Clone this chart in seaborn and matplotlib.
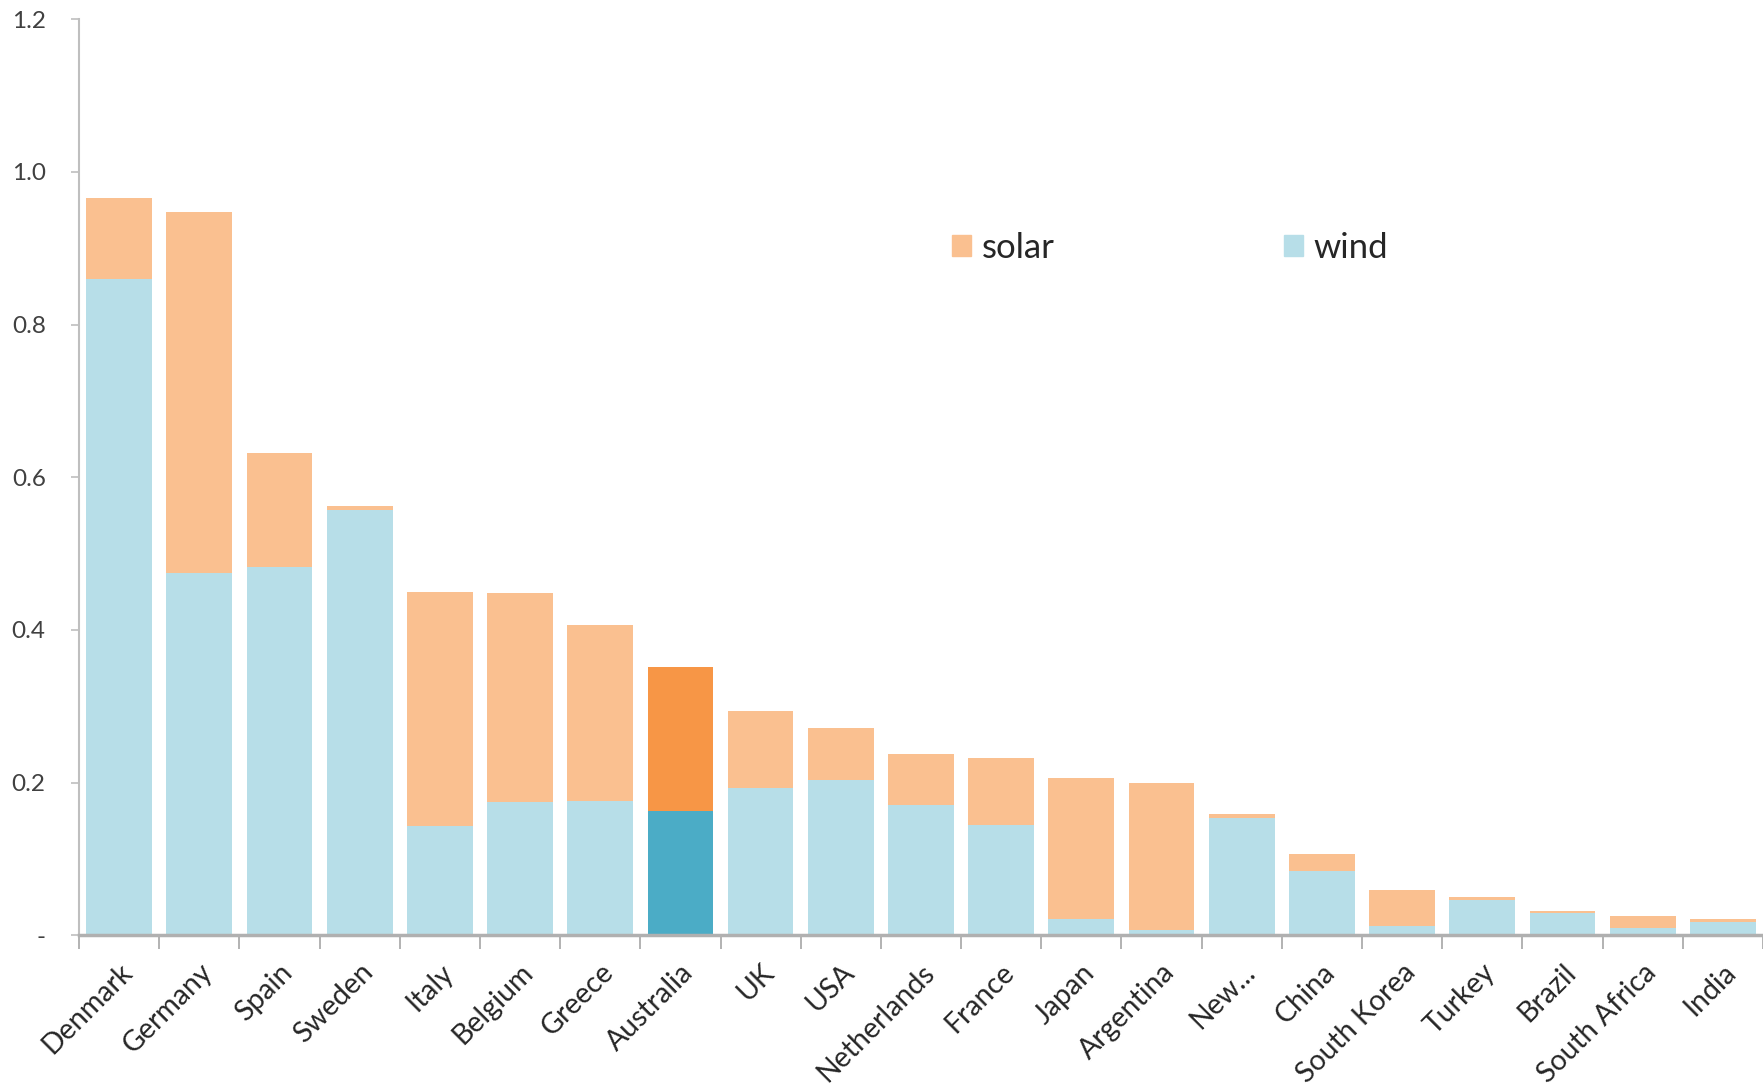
import numpy as np
import pandas as pd
import matplotlib
matplotlib.use("Agg")
import matplotlib.pyplot as plt
import matplotlib.transforms as mtransforms
import seaborn as sns
from matplotlib.patches import Patch

countries = ['Denmark', 'Germany', 'Spain', 'Sweden', 'Italy', 'Belgium', 'Greece',
             'Australia', 'UK', 'USA', 'Netherlands', 'France', 'Japan', 'Argentina',
             'New...', 'China', 'South Korea', 'Turkey', 'Brazil', 'South Africa', 'India']
wind = [0.860, 0.474, 0.482, 0.557, 0.143, 0.175, 0.176, 0.163, 0.193, 0.204, 0.171,
        0.144, 0.022, 0.007, 0.154, 0.084, 0.012, 0.047, 0.030, 0.010, 0.018]
solar = [0.106, 0.473, 0.150, 0.006, 0.307, 0.274, 0.231, 0.188, 0.101, 0.067, 0.066,
         0.088, 0.184, 0.192, 0.005, 0.023, 0.047, 0.003, 0.002, 0.016, 0.003]
y_ticks = [0.0, 0.2, 0.4, 0.6, 0.8, 1.0, 1.2]
y_tick_labels = ['-', '0.2', '0.4', '0.6', '0.8', '1.0', '1.2']
highlight = 'Australia'

df = pd.DataFrame({'country': countries, 'wind': wind, 'solar': solar})
df['total'] = df['wind'] + df['solar']

# colores: tono claro para todos, tono fuerte para el país destacado
solar_colors = ['#F79646' if c == highlight else '#FAC090' for c in countries]
wind_colors = ['#4BACC6' if c == highlight else '#B7DEE8' for c in countries]

sns.set_style('white')
plt.rcParams['font.family'] = ['Lato', 'DejaVu Sans']

fig = plt.figure(figsize=(17.63, 10.89), dpi=100)
ax = fig.add_axes([0.0448, 0.141, 0.9552, 0.8415])

# barras apiladas: total (solar encima) y luego wind desde cero
sns.barplot(data=df, x='country', y='total', hue='country', palette=solar_colors,
            width=0.82, legend=False, ax=ax, saturation=1, linewidth=0)
sns.barplot(data=df, x='country', y='wind', hue='country', palette=wind_colors,
            width=0.82, legend=False, ax=ax, saturation=1, linewidth=0)

ax.set_xlim(-0.5, 20.35)
ax.set_ylim(0, 1.2)
ax.set_yticks(y_ticks)
ax.set_yticklabels(y_tick_labels)
ax.set_xlabel('')
ax.set_ylabel('')

ax.set_xticks(np.arange(len(countries)))
ax.set_xticklabels(countries, rotation=45, ha='right', va='top',
                   rotation_mode='anchor', fontsize=20.5, color='#262626')
shift = mtransforms.ScaledTranslation(2 / 100, 0, fig.dpi_scale_trans)
for lbl in ax.get_xticklabels():
    lbl.set_transform(lbl.get_transform() + shift)
ax.set_xticks(np.arange(len(countries) + 1) - 0.5, minor=True)
ax.tick_params(axis='x', which='major', length=0, pad=17)
ax.tick_params(axis='x', which='minor', length=10, width=1.2, color='#A6A6A6',
               direction='out', bottom=True)
ax.tick_params(axis='y', length=6, width=1.2, color='#BFBFBF', direction='out',
               left=True, labelsize=17.5, labelcolor='#404040', pad=18)

for side in ['top', 'right']:
    ax.spines[side].set_visible(False)
ax.spines['left'].set_color('#BFBFBF')
ax.spines['left'].set_linewidth(1.5)
ax.spines['bottom'].set_color('#B0B0B0')
ax.spines['bottom'].set_linewidth(2.5)

handles = [Patch(color='#FAC090', label='solar'), Patch(color='#B7DEE8', label='wind')]
ax.legend(handles=handles, ncol=2, loc='center left', frameon=False,
          bbox_to_anchor=(952 / 1763, 1 - 247.5 / 1089), bbox_transform=fig.transFigure,
          borderpad=0, borderaxespad=0, fontsize=25, handlelength=0.55,
          handleheight=0.55, handletextpad=0.3, columnspacing=6.6,
          labelcolor='#262626')

fig.savefig('out.png', dpi=100)
